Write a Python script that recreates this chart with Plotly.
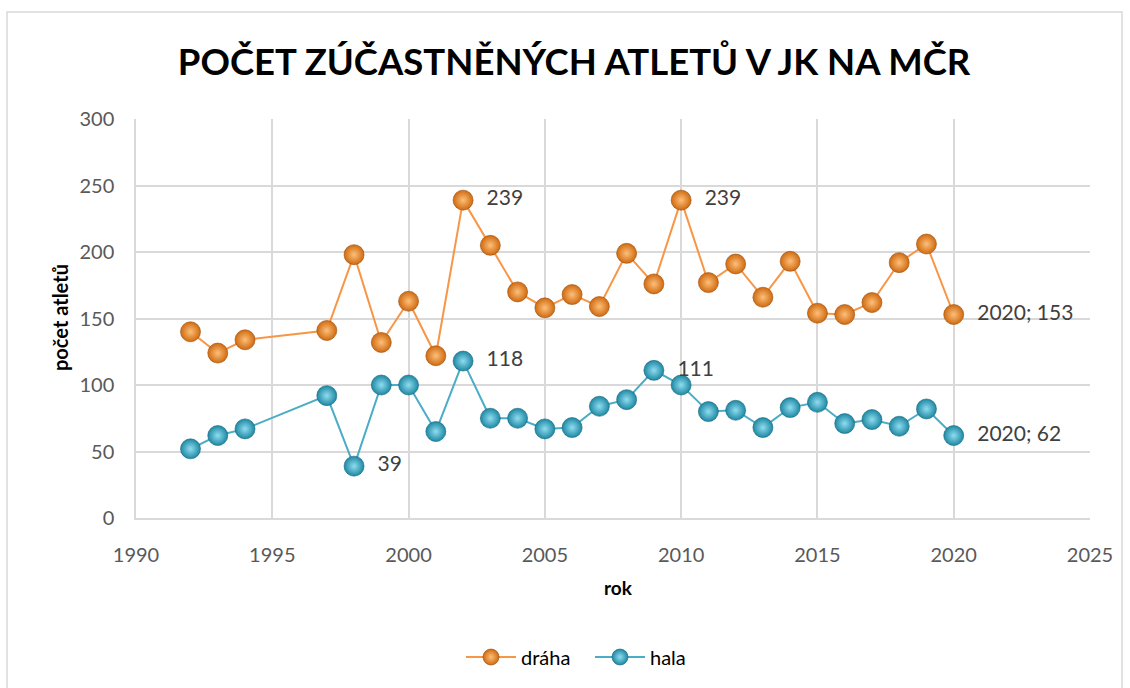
import plotly.graph_objects as go

years_draha = [1992, 1993, 1994, 1997, 1998, 1999, 2000, 2001, 2002, 2003, 2004, 2005, 2006,
               2007, 2008, 2009, 2010, 2011, 2012, 2013, 2014, 2015, 2016, 2017, 2018, 2019, 2020]
draha = [140, 124, 134, 141, 198, 132, 163, 122, 239, 205, 170, 158, 168,
         159, 199, 176, 239, 177, 191, 166, 193, 154, 153, 162, 192, 206, 153]

years_hala = years_draha
hala = [52, 62, 67, 92, 39, 100, 100, 65, 118, 75, 75, 67, 68,
        84, 89, 111, 100, 80, 81, 68, 83, 87, 71, 74, 69, 82, 62]

labels_draha = {2002: "239", 2010: "239", 2020: "2020; 153"}
labels_hala = {1998: "39", 2002: "118", 2009: "111", 2020: "2020; 62"}

title_text = "POČET ZÚČASTNĚNÝCH ATLETŮ V JK NA MČR"
x_title = "rok"
y_title = "počet atletů"

FONT = "Lato"
ORANGE = "#F79646"
BLUE = "#4BACC6"


def texts(years, labels):
    return [labels.get(y, "") for y in years]


fig = go.Figure()
series = [
    ("dráha", years_draha, draha, labels_draha, ORANGE, "#D06A10", "#FDC07A", "#9A4E0C"),
    ("hala", years_hala, hala, labels_hala, BLUE, "#1E88A3", "#8FDDF0", "#16677C"),
]
for name, xs, ys, labs, lc, mc, gc, olc in series:
    fig.add_trace(go.Scatter(
        x=xs, y=ys, name=name, mode="lines+markers",
        line=dict(color=lc, width=2),
        marker=dict(size=20, color=mc, gradient=dict(type="radial", color=gc),
                    line=dict(color=olc, width=0.6)),
        cliponaxis=False,
    ))
for name, xs, ys, labs, lc, mc, gc, olc in series:
    fig.add_trace(go.Scatter(
        x=xs, y=ys, mode="markers+text", showlegend=False, hoverinfo="skip",
        text=texts(xs, labs), textposition="middle right",
        textfont=dict(family=FONT, size=21, color="#404040"),
        marker=dict(size=36, opacity=0),
        cliponaxis=False,
    ))

L, R, T, B = 136, 1090, 119, 518
W, H = 1130, 688

fig.update_layout(
    width=W, height=H,
    margin=dict(l=L, r=W - R, t=T, b=H - B),
    paper_bgcolor="white", plot_bgcolor="white",
    font=dict(family=FONT, color="#595959"),
    title=dict(text=title_text, x=0.508, xanchor="center", y=1 - 62 / H, yanchor="middle",
               yref="container", font=dict(family=FONT, size=36.5, color="#000000", weight="bold")),
    showlegend=True,
    legend=dict(orientation="h", x=(590 - L) / (R - L), xanchor="center",
                y=(B - 657) / (B - T), yanchor="middle",
                font=dict(family=FONT, size=20, color="#000000"),
                itemwidth=50, entrywidth=64),
    xaxis=dict(range=[1990, 2025], dtick=5, tick0=1990, showgrid=True, gridcolor="#D9D9D9",
               gridwidth=1.5, zeroline=False, showline=True, linecolor="#D9D9D9", linewidth=1.5,
               ticks="", tickfont=dict(size=20, color="#595959"), ticklabelstandoff=18),
    yaxis=dict(range=[0, 300], dtick=50, showgrid=True, gridcolor="#D9D9D9", gridwidth=1.5,
               zeroline=False, showline=True, linecolor="#D9D9D9", linewidth=1.5,
               ticks="", tickfont=dict(size=20, color="#595959"), ticklabelstandoff=16),
    annotations=[
        dict(text=f"<b>{x_title}</b>", xref="paper", yref="paper",
             x=(618 - L) / (R - L), y=(B - 587) / (B - T), xanchor="center", yanchor="middle",
             showarrow=False, font=dict(family=FONT, size=19, color="#000000")),
        dict(text=f"<b>{y_title}</b>", xref="paper", yref="paper", textangle=-90,
             x=(60 - L) / (R - L), y=(B - 318) / (B - T), xanchor="center", yanchor="middle",
             showarrow=False, font=dict(family=FONT, size=20, color="#000000")),
    ],
    shapes=[
        dict(type="rect", xref="paper", yref="paper",
             x0=(7 - L) / (R - L), x1=(1122 - L) / (R - L),
             y0=(B - 700) / (B - T), y1=(B - 12) / (B - T),
             line=dict(color="#D9D9D9", width=1.5), fillcolor="rgba(0,0,0,0)", layer="below"),
    ],
)

fig.write_html("out.html", config={"displayModeBar": False},
               post_script="document.body.style.margin='0px';document.body.style.overflow='hidden';")
